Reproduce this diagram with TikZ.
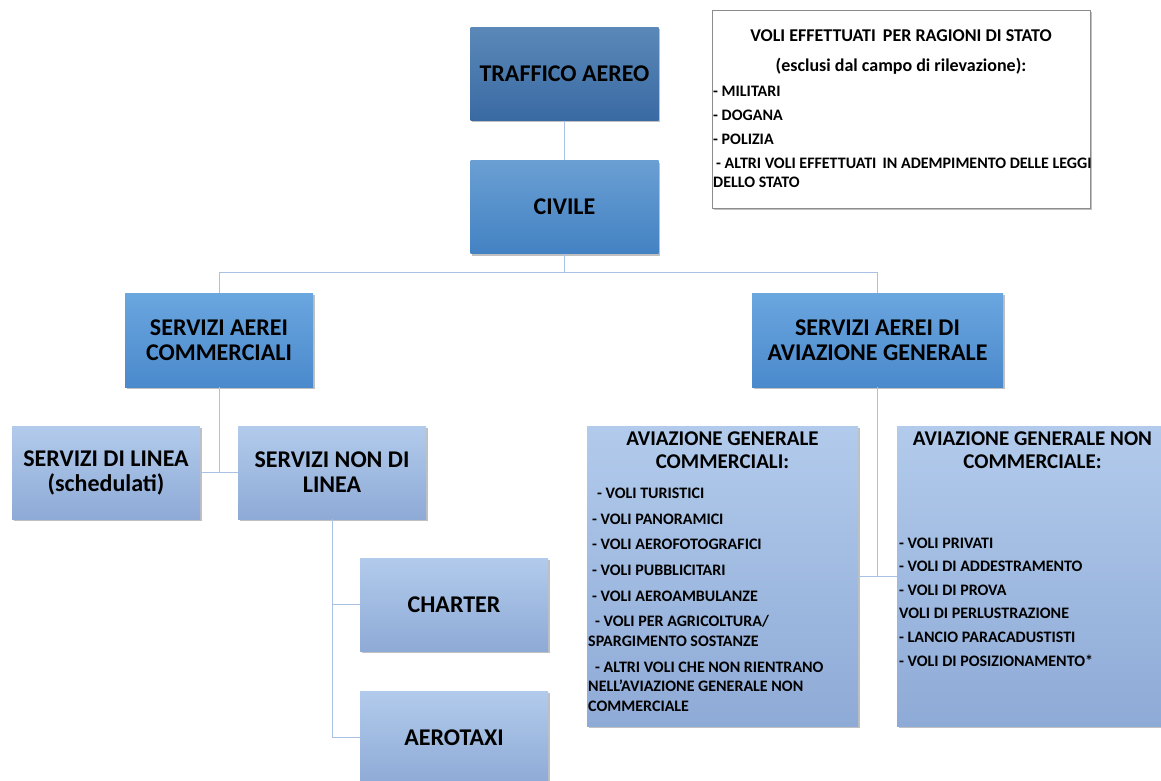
\documentclass[tikz,border=0pt]{standalone}
\usepackage{fontspec}
\setmainfont{Carlito}
\usetikzlibrary{shadows}
\definecolor{trtop}{HTML}{5A88B8}
\definecolor{trbot}{HTML}{3A6AA3}
\definecolor{civtop}{HTML}{6A9FD3}
\definecolor{civbot}{HTML}{4382C3}
\definecolor{midtop}{HTML}{6AA6DF}
\definecolor{midbot}{HTML}{4A89CC}
\definecolor{lighttop}{HTML}{B2CBEC}
\definecolor{lightbot}{HTML}{8EAAD6}
\definecolor{linkc}{HTML}{A9C2E4}
\tikzset{
  boxbase/.style={rectangle, inner sep=0pt, align=center, font=\bfseries,
    drop shadow={shadow xshift=1.5pt, shadow yshift=-2pt, opacity=0.35, fill=black!70}},
  darkbox/.style={boxbase, top color=trtop, bottom color=trbot},
  civbox/.style={boxbase, top color=civtop, bottom color=civbot},
  midbox/.style={boxbase, top color=midtop, bottom color=midbot},
  lightbox/.style={boxbase, top color=lighttop, bottom color=lightbot},
  smallbox/.style={minimum width=188pt, minimum height=93pt},
  link/.style={draw=linkc, line width=1pt},
  maintext/.style={font=\fontsize{24}{25}\selectfont\bfseries, align=center},
  titletext/.style={font=\fontsize{21}{23}\selectfont\bfseries, align=center, anchor=base, inner sep=0pt},
  listtext/.style={font=\fontsize{16}{19.5}\selectfont\bfseries, align=left, anchor=base west, inner sep=0pt},
}
\begin{document}
\begin{tikzpicture}[x=1pt, y=-1pt]
\useasboundingbox[fill=white] (0,0) rectangle (1161,781);

% main chain
\node[darkbox, smallbox, maintext] (tr) at (564.5,74) {TRAFFICO AEREO};
\node[civbox, smallbox, maintext] (civ) at (564.5,207) {CIVILE};
\node[midbox, smallbox, maintext, minimum height=94pt] (sac) at (219,340) {SERVIZI AEREI\\COMMERCIALI};
\node[midbox, maintext, minimum width=251pt, minimum height=94pt] (saag) at (877.5,340) {SERVIZI AEREI DI\\AVIAZIONE GENERALE};
\node[lightbox, smallbox, maintext] (sdl) at (106,472.5) {SERVIZI DI LINEA\\(schedulati)};
\node[lightbox, smallbox, maintext] (snl) at (332,472.5) {SERVIZI NON DI\\LINEA};
\node[lightbox, smallbox, maintext] (charter) at (454,604.5) {CHARTER};
\node[lightbox, smallbox, maintext] (aerotaxi) at (454,737.5) {AEROTAXI};
\node[lightbox, minimum width=271pt, minimum height=300pt] (agc) at (722.5,576) {};
\node[lightbox, minimum width=271pt, minimum height=300pt] (agnc) at (1032.5,576) {};

% state flights box
\node[rectangle, draw=black!45, fill=white, line width=0.8pt, minimum width=378pt, minimum height=198pt,
  drop shadow={shadow xshift=1.5pt, shadow yshift=-2pt, opacity=0.35, fill=black!70}] (stato) at (901,109) {};
\node[titletext, font=\fontsize{18}{30}\selectfont\bfseries] (statot) at (901,72) {VOLI EFFETTUATI\, PER RAGIONI DI STATO\\(esclusi dal campo di rilevazione):};
\node[listtext, font=\fontsize{16}{19}\selectfont\bfseries] (statolist) at (713,187) {- MILITARI\\[5pt] - DOGANA\\[5pt] - POLIZIA\\[5pt] \hspace*{3pt}- ALTRI VOLI EFFETTUATI\, IN ADEMPIMENTO DELLE LEGGI\\DELLO STATO};

% AGC texts
\node[titletext] (agct) at (722.5,468) {AVIAZIONE GENERALE\\COMMERCIALI:};
\node[listtext] (agcl) at (588,711) {\hspace*{9pt}- VOLI TURISTICI\\[6.2pt] \hspace*{4pt}- VOLI PANORAMICI\\[6.2pt] \hspace*{4pt}- VOLI AEROFOTOGRAFICI\\[6.2pt] \hspace*{4pt}- VOLI PUBBLICITARI\\[6.2pt] \hspace*{4pt}- VOLI AEROAMBULANZE\\[6.2pt] \hspace*{7pt}- VOLI PER AGRICOLTURA/\\SPARGIMENTO SOSTANZE\\[6.2pt] \hspace*{7pt}- ALTRI VOLI CHE NON RIENTRANO\\NELL’AVIAZIONE GENERALE NON\\COMMERCIALE};

% AGNC texts
\node[titletext] (agnct) at (1032.5,468) {AVIAZIONE GENERALE NON\\COMMERCIALE:};
\node[listtext, font=\fontsize{16}{23.6}\selectfont\bfseries] (agncl) at (899,666) {- VOLI PRIVATI\\- VOLI DI ADDESTRAMENTO\\- VOLI DI PROVA\\VOLI DI PERLUSTRAZIONE\\- LANCIO PARACADUSTISTI\\- VOLI DI POSIZIONAMENTO*};

% connectors
\draw[link] (tr.south) -- (civ.north);
\draw[link] (civ.south) -- ++(0,19) -| (sac.north);
\draw[link] (civ.south) -- ++(0,19) -| (saag.north);
\draw[link] (sac.south) |- (sdl.east);
\draw[link] (sac.south) |- (snl.west);
\draw[link] (snl.south) |- (charter.west);
\draw[link] (snl.south) |- (aerotaxi.west);
\draw[link] (saag.south) |- (agc.east);
\draw[link] (saag.south) |- (agnc.west);
\end{tikzpicture}
\end{document}
